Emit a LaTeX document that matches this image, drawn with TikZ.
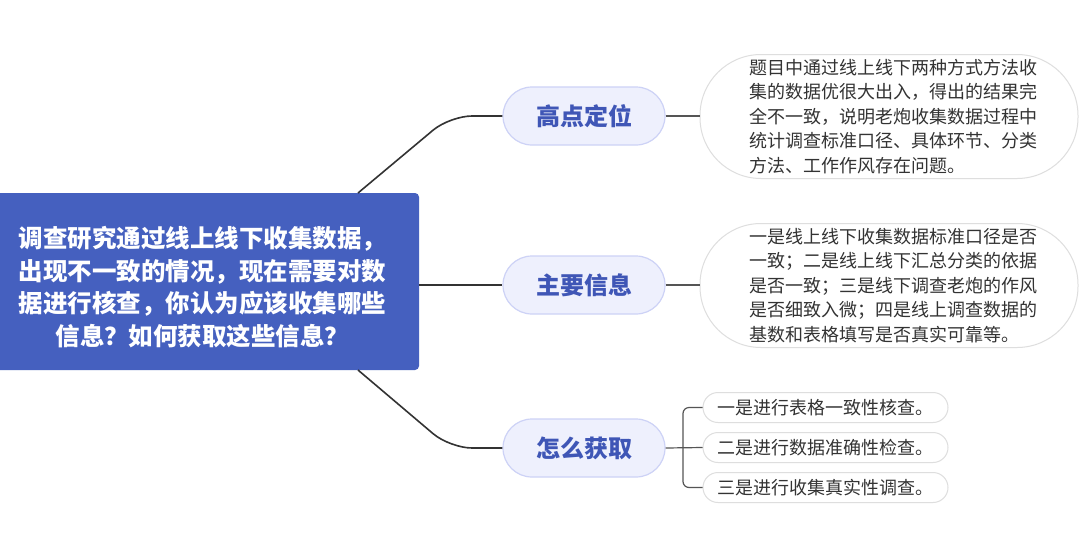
\documentclass[tikz,border=0pt]{standalone}
\usepackage{fontspec}
\newfontfamily\cjk{Noto Sans CJK SC}
\definecolor{centralblue}{HTML}{4560BF}
\definecolor{branchfill}{HTML}{EEF0FD}
\definecolor{branchdraw}{HTML}{CDD2F6}
\definecolor{branchtext}{HTML}{3F56B6}
\definecolor{mainline}{HTML}{333333}
\definecolor{subline}{HTML}{555555}
\definecolor{detaildraw}{HTML}{DEDEDE}
\definecolor{detailtext}{HTML}{333333}
\tikzset{
  centralbox/.style={draw=none, fill=centralblue, rounded corners=4pt, minimum width=433pt, minimum height=177pt, inner sep=0pt,
    text=white, align=center, font=\cjk\bfseries\fontsize{24.5}{32.5}\selectfont},
  branchbox/.style={draw=branchdraw, line width=1.2pt, fill=branchfill, rounded corners=29pt, minimum width=162pt, minimum height=58pt,
    inner sep=0pt, text=branchtext, font=\cjk\bfseries\fontsize{24}{28}\selectfont},
  detailbox/.style={draw=detaildraw, line width=1pt, fill=white, rounded corners=61pt, minimum width=378pt, minimum height=124pt,
    inner sep=0pt, text width=280pt, align=left, text=detailtext, font=\cjk\fontsize{18}{24.5}\selectfont},
  leafbox/.style={draw=detaildraw, line width=1pt, fill=white, rounded corners=15pt, minimum width=245pt, minimum height=30pt,
    inner sep=0pt, text width=217pt, align=left, text=detailtext, font=\cjk\fontsize{18}{22}\selectfont},
  mainconn/.style={draw=mainline, line width=1.6pt},
  subconn/.style={draw=subline, line width=1.2pt},
}
\begin{document}
\begin{tikzpicture}[x=1pt,y=-1pt]
\useasboundingbox[fill=white] (0,0) rectangle (1080,550);
\node[centralbox] (c) at (202.5,281.5) {\rule{0pt}{6pt}\\[-6pt]调查研究通过线上线下收集数据，\\出现不一致的情况，现在需要对数\\据进行核查，你认为应该收集哪些\\信息？如何获取这些信息？};
\node[branchbox] (b1) at (584,116) {高点定位};
\node[branchbox] (b2) at (584,285) {主要信息};
\node[branchbox] (b3) at (584,448) {怎么获取};
\node[detailbox] (d1) at (889,116.5) {题目中通过线上线下两种方式方法收\\集的数据优很大出入，得出的结果完\\全不一致，说明老炮收集数据过程中\\统计调查标准口径、具体环节、分类\\方法、工作作风存在问题。};
\node[detailbox] (d2) at (889,285.5) {一是线上线下收集数据标准口径是否\\一致；二是线上线下汇总分类的依据\\是否一致；三是线下调查老炮的作风\\是否细致入微；四是线上调查数据的\\基数和表格填写是否真实可靠等。};
\node[leafbox] (l1) at (825.5,407.5) {一是进行表格一致性核查。};
\node[leafbox] (l2) at (825.5,447.5) {二是进行数据准确性检查。};
\node[leafbox] (l3) at (825.5,487.5) {三是进行收集真实性调查。};
% main connectors
\coordinate (c1s) at (358,193);
\coordinate (c1k) at (450,116);
\coordinate (c3s) at (358,370);
\coordinate (c3k) at (450,448);
\draw[mainconn, rounded corners=22pt] (c1s) -- (c1k) -- (b1.west);
\draw[mainconn] (c.east |- b2.west) -- (b2.west);
\draw[mainconn, rounded corners=22pt] (c3s) -- (c3k) -- (b3.west);
% detail connectors
\draw[subconn] (b1.east) -- (d1.west |- b1.east);
\draw[subconn] (b2.east) -- (d2.west |- b2.east);
\coordinate (bt) at (683,407.5);
\coordinate (bb) at (683,487.5);
\draw[subconn, rounded corners=6pt] (l1.west) -- (bt) -- (bb) -- (l3.west);
\draw[subconn] (b3.east) -- (l2.west);
\end{tikzpicture}
\end{document}
